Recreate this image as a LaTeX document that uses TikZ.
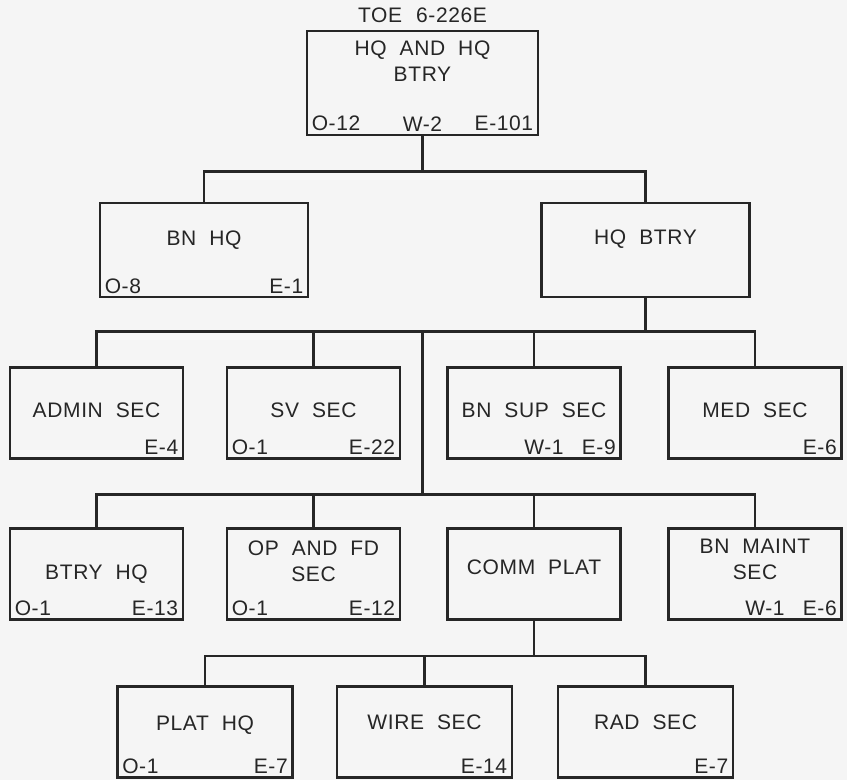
\documentclass[tikz,border=0pt]{standalone}
\usepackage{fontspec}
\setmainfont{Liberation Sans}[LetterSpace=3,WordSpace=2]
\usetikzlibrary{positioning}
\begin{document}
\begin{tikzpicture}[x=1pt,y=-1pt,
  every node/.style={font=\fontsize{21}{26}\selectfont,text=black!85},
  unit node/.style={draw=black!85,line width=2.8pt,minimum width=173pt,minimum height=91pt,inner sep=0pt},
  wide node/.style={unit node,minimum width=208pt,minimum height=94pt},
  top node/.style={unit node,minimum width=231pt,minimum height=104pt},
  title node/.style={align=center,inner sep=0pt},
  grade node/.style={inner xsep=6pt,inner ysep=5pt},
  link/.style={draw=black!85,line width=2.2pt}]
  \fill[black!4] (0,0) rectangle (847,780);
  \useasboundingbox (0,0) rectangle (847,780);

  % boxes
  \node[top node] (top) at (422.5,83) {};
  \node[wide node] (bnhq) at (204,250) {};
  \node[wide node] (hqbtry) at (645.5,250) {};
  \node[unit node] (admin) at (96.5,413) {};
  \node[unit node] (sv) at (313.5,413) {};
  \node[unit node] (bnsup) at (534,413) {};
  \node[unit node] (med) at (755,413) {};
  \node[unit node] (btryhq) at (96.5,574) {};
  \node[unit node] (opfd) at (313.5,574) {};
  \node[unit node] (comm) at (534,574) {};
  \node[unit node] (maint) at (755,574) {};
  \node[unit node,minimum width=175pt] (plathq) at (205,732) {};
  \node[unit node,minimum width=175pt] (wire) at (424.5,732) {};
  \node[unit node,minimum width=175pt] (rad) at (645.5,732) {};

  % titles
  \node[title node] (toe) [above=7pt of top] {TOE\hspace{14pt}6-226E};
  \node[title node] (top-t) at ([yshift=22pt]top.center) {HQ AND HQ\\BTRY};
  \node[title node] (bnhq-t) at ([yshift=10pt]bnhq.center) {BN HQ};
  \node[title node] (hqbtry-t) at ([yshift=11pt]hqbtry.center) {HQ BTRY};
  \node[title node] (admin-t) at ([yshift=3pt]admin.center) {ADMIN SEC};
  \node[title node] (sv-t) at ([yshift=3pt]sv.center) {SV SEC};
  \node[title node] (bnsup-t) at ([yshift=3pt]bnsup.center) {BN SUP SEC};
  \node[title node] (med-t) at ([yshift=3pt]med.center) {MED SEC};
  \node[title node] (btryhq-t) at (btryhq.center) {BTRY HQ};
  \node[title node] (opfd-t) at ([yshift=13pt]opfd.center) {OP AND FD\\SEC};
  \node[title node] (comm-t) at ([yshift=7pt]comm.center) {COMM PLAT};
  \node[title node] (maint-t) at ([yshift=15pt]maint.center) {BN MAINT\\SEC};
  \node[title node] (plathq-t) at ([yshift=7pt]plathq.center) {PLAT HQ};
  \node[title node] (wire-t) at ([yshift=10pt]wire.center) {WIRE SEC};
  \node[title node] (rad-t) at ([yshift=10pt]rad.center) {RAD SEC};

  % strengths
  \node[grade node,anchor=south west] (top-o) at (top.south west) {O-12};
  \node[grade node,anchor=south] (top-w) at (top.south) {W-2};
  \node[grade node,anchor=south east] (top-e) at (top.south east) {E-101};
  \node[grade node,anchor=south west] (bnhq-o) at (bnhq.south west) {O-8};
  \node[grade node,anchor=south east] (bnhq-e) at (bnhq.south east) {E-1};
  \node[grade node,anchor=south east] (admin-e) at (admin.south east) {E-4};
  \node[grade node,anchor=south west] (sv-o) at (sv.south west) {O-1};
  \node[grade node,anchor=south east] (sv-e) at (sv.south east) {E-22};
  \node[grade node,anchor=south] (bnsup-w) at ([xshift=10pt]bnsup.south) {W-1};
  \node[grade node,anchor=south east] (bnsup-e) at (bnsup.south east) {E-9};
  \node[grade node,anchor=south east] (med-e) at (med.south east) {E-6};
  \node[grade node,anchor=south west] (btryhq-o) at (btryhq.south west) {O-1};
  \node[grade node,anchor=south east] (btryhq-e) at (btryhq.south east) {E-13};
  \node[grade node,anchor=south west] (opfd-o) at (opfd.south west) {O-1};
  \node[grade node,anchor=south east] (opfd-e) at (opfd.south east) {E-12};
  \node[grade node,anchor=south] (maint-w) at ([xshift=10pt]maint.south) {W-1};
  \node[grade node,anchor=south east] (maint-e) at (maint.south east) {E-6};
  \node[grade node,anchor=south west] (plathq-o) at (plathq.south west) {O-1};
  \node[grade node,anchor=south east] (plathq-e) at (plathq.south east) {E-7};
  \node[grade node,anchor=south east] (wire-e) at (wire.south east) {E-14};
  \node[grade node,anchor=south east] (rad-e) at (rad.south east) {E-7};

  % lines
  \draw[link] (top.south) -- ++(0,35) coordinate (bus2);
  \draw[link] (bnhq.north) |- (bus2) -| (hqbtry.north);
  \draw[link] (hqbtry.south) -- ++(0,33) coordinate (bus3);
  \draw[link] (admin.north) |- (bus3) -| (med.north);
  \draw[link] (sv.north) -- (sv.north |- bus3);
  \draw[link] (bnsup.north) -- (bnsup.north |- bus3);
  \coordinate (spine) at (top.south |- bus3);
  \draw[link] (spine) -- ++(0,163) coordinate (bus4);
  \draw[link] (btryhq.north) |- (bus4) -| (maint.north);
  \draw[link] (opfd.north) -- (opfd.north |- bus4);
  \draw[link] (comm.north) -- (comm.north |- bus4);
  \draw[link] (comm.south) -- ++(0,35) coordinate (bus5);
  \draw[link] (plathq.north) |- (bus5) -| (rad.north);
  \draw[link] (wire.north) -- (wire.north |- bus5);
\end{tikzpicture}
\end{document}
